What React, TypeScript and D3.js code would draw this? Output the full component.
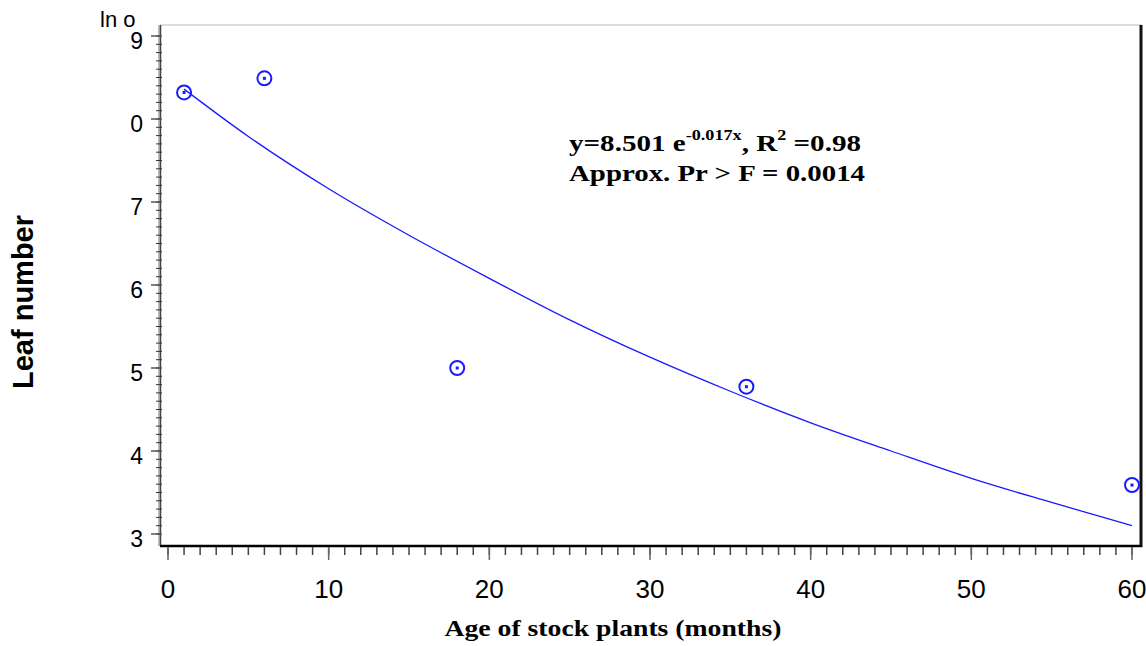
import React from "react";
import * as d3 from "d3";

const pointAges = [1, 6, 18, 36, 60];
const pointLeaves = [8.32, 8.49, 5.0, 4.775, 3.59];

const curveAges = [1, 5, 10, 15, 20, 25, 30, 35, 40, 45, 50, 55, 60];
const curveLeaves = [8.36, 7.79, 7.16, 6.6, 6.08, 5.58, 5.13, 4.72, 4.34, 4.0, 3.67, 3.38, 3.1];

const xTickValues = [0, 10, 20, 30, 40, 50, 60];
const xTickLabels = ["0", "10", "20", "30", "40", "50", "60"];
const yTickValues = [3, 4, 5, 6, 7, 8, 9];
const yTickLabels = ["3", "4", "5", "6", "7", "0", "9"];

const W = 1146;
const H = 646;
const LEFT = 160;
const RIGHT = 1141;
const TOP = 25;
const BOTTOM = 546;

export default function App() {
  const x = d3.scaleLinear().domain([0, 60]).range([168, 1132]);
  const y = d3.scaleLinear().domain([3, 9]).range([534, 36]);

  const line = d3
    .line<number>()
    .x((_, i) => x(curveAges[i]))
    .y((d) => y(d))
    .curve(d3.curveMonotoneX);

  const xMinor = d3.range(0, 61, 1);
  const yMinor = d3.range(3, 9.001, 0.1);
  const blue = "#1a1aff";

  return (
    <svg
      width={W}
      height={H}
      style={{ position: "absolute", left: 0, top: 0, background: "#fff" }}
    >
      {/* frame */}
      <line x1={LEFT} x2={RIGHT + 1} y1={TOP} y2={TOP} stroke="#bbb" strokeWidth={1} />
      <line x1={RIGHT} x2={RIGHT} y1={TOP} y2={BOTTOM + 1} stroke="#111" strokeWidth={3} />
      <line x1={LEFT - 1} x2={LEFT - 1} y1={TOP} y2={BOTTOM} stroke="#aaa" strokeWidth={1.5} />
      <line x1={LEFT + 0.5} x2={LEFT + 0.5} y1={TOP} y2={BOTTOM} stroke="#444" strokeWidth={1.5} />
      <line x1={LEFT} x2={RIGHT + 1} y1={BOTTOM} y2={BOTTOM} stroke="#000" strokeWidth={2.5} />

      {/* y ticks */}
      {yMinor.map((v, i) => (
        <line key={"ym" + i} x1={156} x2={162} y1={y(v)} y2={y(v)} stroke="#333" strokeWidth={1} />
      ))}
      {yTickValues.map((v, i) => (
        <g key={"yt" + i}>
          <line x1={151} x2={161} y1={y(v)} y2={y(v)} stroke="#555" strokeWidth={1.5} />
          <text
            x={143}
            y={y(v) + 5}
            textAnchor="end"
            dominantBaseline="central"
            fontFamily="Liberation Sans, Arial, sans-serif"
            fontSize={23}
            fill="#000"
          >
            {yTickLabels[i]}
          </text>
        </g>
      ))}

      {/* x ticks */}
      {xMinor.map((v) => (
        <line key={"xm" + v} x1={x(v)} x2={x(v)} y1={BOTTOM + 1} y2={BOTTOM + 9} stroke="#444" strokeWidth={1.5} />
      ))}
      {xTickValues.map((v, i) => (
        <g key={"xt" + i}>
          <line x1={x(v)} x2={x(v)} y1={BOTTOM + 1} y2={BOTTOM + 14} stroke="#666" strokeWidth={1.5} />
          <text
            x={x(v)}
            y={598}
            textAnchor="middle"
            fontFamily="Liberation Sans, Arial, sans-serif"
            fontSize={26}
            fill="#000"
          >
            {xTickLabels[i]}
          </text>
        </g>
      ))}

      {/* top-left label */}
      <text x={100} y={27} fontFamily="Liberation Sans, Arial, sans-serif" fontSize={22} fill="#000">
        ln o
      </text>

      {/* fitted curve */}
      <path d={line(curveLeaves) || ""} fill="none" stroke={blue} strokeWidth={1.3} />

      {/* points */}
      {pointAges.map((a, i) => (
        <g key={"p" + i}>
          <circle cx={x(a)} cy={y(pointLeaves[i])} r={7} fill="none" stroke={blue} strokeWidth={2} />
          <rect x={x(a) - 1.5} y={y(pointLeaves[i]) - 1.5} width={3} height={3} fill={blue} />
        </g>
      ))}

      {/* annotation */}
      <text
        x={569}
        y={151}
        fontFamily="Liberation Serif, Times New Roman, serif"
        fontWeight="bold"
        fontSize={24}
        fill="#000"
        textLength={292}
        lengthAdjust="spacingAndGlyphs"
      >
        <tspan>y=8.501 e</tspan>
        <tspan fontSize={15} dy={-11}>-0.017x</tspan>
        <tspan dy={11}>, R</tspan>
        <tspan fontSize={15} dy={-11}>2</tspan>
        <tspan dy={11}> =0.98</tspan>
      </text>
      <text
        x={569}
        y={181}
        fontFamily="Liberation Serif, Times New Roman, serif"
        fontWeight="bold"
        fontSize={24}
        fill="#000"
        textLength={296}
        lengthAdjust="spacingAndGlyphs"
      >
        Approx. Pr &gt; F = 0.0014
      </text>

      {/* axis titles */}
      <text
        x={613}
        y={636}
        textAnchor="middle"
        fontFamily="Liberation Serif, Times New Roman, serif"
        fontWeight="bold"
        fontSize={24}
        fill="#000"
        textLength={337}
        lengthAdjust="spacingAndGlyphs"
      >
        Age of stock plants (months)
      </text>
      <text
        transform="translate(33,302) rotate(-90)"
        textAnchor="middle"
        fontFamily="Liberation Sans, Arial, sans-serif"
        fontWeight="bold"
        fontSize={29}
        fill="#000"
      >
        Leaf number
      </text>
    </svg>
  );
}
